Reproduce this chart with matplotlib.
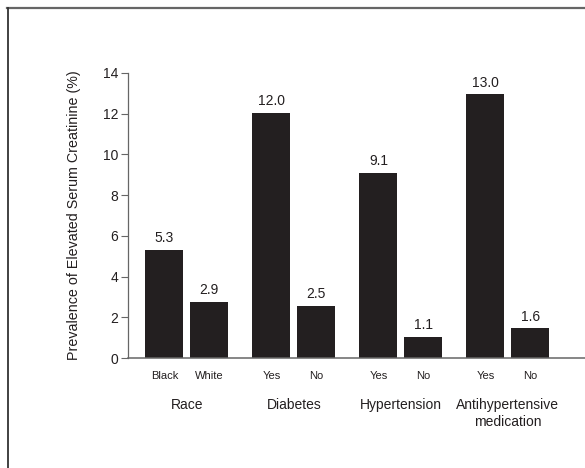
import matplotlib
matplotlib.use("Agg")
import matplotlib.pyplot as plt
from matplotlib.lines import Line2D

plt.rcParams['font.family'] = ['Liberation Sans', 'DejaVu Sans']

groups = ["Race", "Diabetes", "Hypertension", "Antihypertensive\nmedication"]
sub_labels = ["Black", "White", "Yes", "No", "Yes", "No", "Yes", "No"]
values = [5.3, 2.75, 12.05, 2.55, 9.1, 1.05, 12.95, 1.45]
value_labels = ["5.3", "2.9", "12.0", "2.5", "9.1", "1.1", "13.0", "1.6"]
yticks = [0, 2, 4, 6, 8, 10, 12, 14]
ylabel = "Prevalence of Elevated Serum Creatinine (%)"

W, H = 585, 468
fig = plt.figure(figsize=(W / 100, H / 100), dpi=100)
ax = fig.add_axes([128 / W, 1 - 358 / H, 1 - 128 / W, (358 - 73) / H])

bar_color = "#231f20"
offset = 0.21
width = 0.355
xs = []
for i, g in enumerate(groups):
    xs.extend([i - offset, i + offset])

ax.bar(xs, values, width=width, color=bar_color, edgecolor="none")
for x, v, lab in zip(xs, values, value_labels):
    ax.annotate(lab, (x, v), xytext=(0, 3.5), textcoords="offset points",
                ha="center", va="bottom", fontsize=10, color="#231f20")

ax.set_xlim(-0.55, 3.72)
ax.set_ylim(0, 14)
ax.set_yticks(yticks)
ax.set_yticklabels([str(t) for t in yticks], fontsize=10, color="#231f20")
ax.tick_params(axis="y", direction="out", length=5, width=0.8, color="#666666", pad=2)
ax.set_xticks([])
for s in ["top", "right"]:
    ax.spines[s].set_visible(False)
ax.spines["left"].set_color("#666666")
ax.spines["bottom"].set_color("#666666")
ax.spines["left"].set_linewidth(0.9)
ax.spines["bottom"].set_linewidth(1.1)

ax.set_ylabel(ylabel, fontsize=10.3, color="#231f20", labelpad=16)

trans = ax.get_xaxis_transform()
for x, s in zip(xs, sub_labels):
    ax.text(x, -0.064, s, transform=trans, ha="center", va="center",
            fontsize=8, color="#231f20")
for i, g in enumerate(groups):
    ax.text(i, -0.14, g, transform=trans, ha="center", va="top",
            fontsize=10, color="#231f20", linespacing=1.25)

# page frame
fig.add_artist(Line2D([7 / W, 1.0], [1 - 7.5 / H, 1 - 7.5 / H],
                      transform=fig.transFigure, color="#666666", lw=1.6))
fig.add_artist(Line2D([7.5 / W, 7.5 / W], [0, 1 - 7.5 / H],
                      transform=fig.transFigure, color="#333333", lw=1.3))

fig.savefig("out.png", dpi=100)
